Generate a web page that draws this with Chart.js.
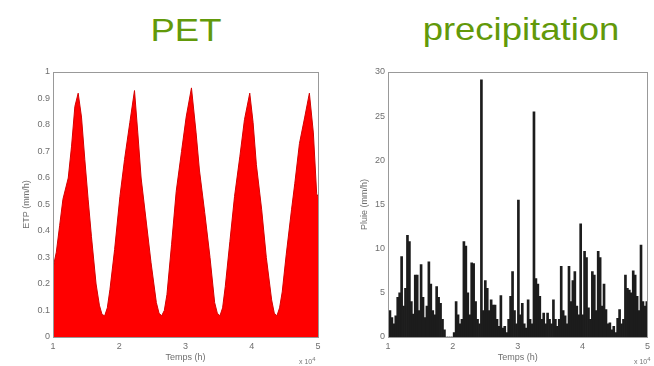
<!DOCTYPE html>
<html>
<head>
<meta charset="utf-8">
<script src="https://cdn.jsdelivr.net/npm/chart.js@4"></script>
<style>
  body { margin: 0; background: #fff; width: 654px; height: 366px; overflow: hidden; position: relative; font-family: 'Liberation Sans', Arial, sans-serif; }
  canvas { position: absolute; top: 0; }
  .title { position: absolute; font-size: 32px; line-height: 32px; color: #62990a; text-align: center; transform: scaleX(1.14); }
  .exp { position: absolute; font-size: 7px; color: #777; }
</style>
</head>
<body>
<div class="title" style="left:86px; top:14px; width:200px;">PET</div>
<div class="title" style="left:401px; top:13px; width:240px;">precipitation</div>
<canvas id="petChart" width="327" height="366" style="left:0;"></canvas>
<canvas id="rainChart" width="327" height="366" style="left:327px;"></canvas>
<div class="exp" style="left:299px; top:356px;">x 10<sup>4</sup></div>
<div class="exp" style="left:634px; top:356px;">x 10<sup>4</sup></div>
<script>
// time axis in units of 10^4 h
const petTime = [1.00, 1.05, 1.10, 1.15, 1.23, 1.28, 1.33, 1.38, 1.43, 1.48, 1.53, 1.58, 1.65, 1.70, 1.74, 1.78, 1.82, 1.86,
  1.93, 2.01, 2.08, 2.16, 2.23, 2.28, 2.33, 2.41, 2.48, 2.56, 2.60, 2.64, 2.68, 2.72,
  2.79, 2.86, 2.94, 3.01, 3.09, 3.16, 3.21, 3.29, 3.37, 3.44, 3.48, 3.52, 3.56, 3.60,
  3.67, 3.74, 3.82, 3.89, 3.97, 4.02, 4.07, 4.15, 4.22, 4.30, 4.34, 4.38, 4.42, 4.46,
  4.52, 4.60, 4.65, 4.72, 4.80, 4.87, 4.93, 4.98, 5.00];
const petMm = [0.26, 0.32, 0.42, 0.52, 0.60, 0.72, 0.87, 0.92, 0.83, 0.67, 0.52, 0.38, 0.20, 0.12, 0.085, 0.08, 0.11, 0.18,
  0.33, 0.53, 0.67, 0.81, 0.93, 0.77, 0.60, 0.43, 0.28, 0.13, 0.09, 0.08, 0.10, 0.16,
  0.35, 0.55, 0.70, 0.83, 0.94, 0.77, 0.63, 0.47, 0.30, 0.13, 0.09, 0.08, 0.11, 0.19,
  0.36, 0.53, 0.68, 0.82, 0.92, 0.81, 0.65, 0.48, 0.30, 0.14, 0.09, 0.08, 0.11, 0.17,
  0.31, 0.48, 0.58, 0.73, 0.83, 0.92, 0.77, 0.54, 0.53];

const rainTime = [1.00, 1.03, 1.06, 1.09, 1.12, 1.15, 1.18, 1.21, 1.24, 1.27, 1.30, 1.33, 1.36, 1.39, 1.42, 1.45, 1.48, 1.51, 1.54, 1.57,
  1.60, 1.63, 1.66, 1.69, 1.72, 1.75, 1.78, 1.81, 1.84, 1.87, 1.90, 1.93, 1.96, 1.99, 2.02, 2.05, 2.08, 2.11, 2.14, 2.17,
  2.20, 2.23, 2.26, 2.29, 2.32, 2.35, 2.38, 2.41, 2.44, 2.47, 2.50, 2.53, 2.56, 2.59, 2.62, 2.65, 2.68, 2.71, 2.74, 2.77,
  2.80, 2.83, 2.86, 2.89, 2.92, 2.95, 2.98, 3.01, 3.04, 3.07, 3.10, 3.13, 3.16, 3.19, 3.22, 3.25, 3.28, 3.31, 3.34, 3.37,
  3.40, 3.43, 3.46, 3.49, 3.52, 3.55, 3.58, 3.61, 3.64, 3.67, 3.70, 3.73, 3.76, 3.79, 3.82, 3.85, 3.88, 3.91, 3.94, 3.97,
  4.00, 4.03, 4.06, 4.09, 4.12, 4.15, 4.18, 4.21, 4.24, 4.27, 4.30, 4.33, 4.36, 4.39, 4.42, 4.45, 4.48, 4.51, 4.54, 4.57,
  4.60, 4.63, 4.66, 4.69, 4.72, 4.75, 4.78, 4.81, 4.84, 4.87, 4.90, 4.93, 4.96, 4.99];
const rainMm = [1.2, 3.0, 2.2, 1.5, 2.4, 4.5, 5.0, 9.1, 3.5, 5.5, 11.5, 10.8, 4.0, 2.6, 7.0, 7.0, 3.0, 8.2, 4.5, 2.2,
  3.5, 8.5, 6.0, 3.0, 2.5, 5.7, 4.5, 3.8, 2.0, 0.8, 0, 0, 0, 0, 0.5, 4.0, 2.5, 1.5, 2.0, 10.8,
  10.3, 5.0, 2.5, 8.4, 8.3, 4.0, 2.0, 1.5, 29.1, 3.0, 6.4, 5.5, 3.0, 4.2, 3.6, 3.6, 2.0, 1.2, 4.7, 1.0,
  1.2, 0.5, 2.0, 4.6, 7.4, 3.0, 1.5, 15.5, 2.5, 3.8, 1.5, 1.0, 4.2, 2.0, 1.5, 25.5, 6.6, 6.0, 4.6, 2.0,
  2.7, 1.5, 2.7, 2.0, 1.5, 4.2, 2.0, 1.2, 2.0, 8.0, 3.0, 2.4, 1.5, 8.0, 4.0, 6.4, 7.4, 3.5, 2.5, 12.8,
  2.5, 9.7, 9.0, 3.3, 2.0, 7.4, 7.0, 3.0, 9.7, 9.0, 3.5, 6.0, 3.1, 1.5, 1.6, 0.8, 1.2, 0.5, 2.1, 3.1,
  1.5, 2.0, 7.0, 5.5, 5.3, 5.0, 7.5, 7.0, 4.6, 3.0, 10.4, 4.0, 3.5, 4.0];

Chart.defaults.font.family = "'Liberation Sans', Arial, sans-serif";
Chart.defaults.color = '#6f6f6f';

const frame = {
  id: 'frame',
  afterDraw(chart) {
    const {ctx, chartArea: a} = chart;
    ctx.save();
    ctx.strokeStyle = '#999';
    ctx.lineWidth = 1;
    ctx.strokeRect(Math.round(a.left) + 0.5, Math.round(a.top) + 0.5, Math.round(a.right - a.left), Math.round(a.bottom - a.top));
    ctx.restore();
  }
};

function axes(yMax, yStep, yTitle, yWidth, yTitlePad) {
  return {
    x: {
      type: 'linear', min: 1, max: 5, offset: false,
      ticks: { stepSize: 1, font: { size: 9 }, padding: 4 },
      grid: { display: false, drawTicks: false, tickLength: 0 },
      border: { display: false },
      title: { display: true, text: 'Temps (h)', font: { size: 9 }, padding: { top: 0, bottom: 3 } },
      afterFit: s => { s.height = 29; }
    },
    y: {
      min: 0, max: yMax,
      ticks: { stepSize: yStep, font: { size: 9 }, padding: 3, callback: v => String(Math.round(v * 10) / 10) },
      grid: { display: false, drawTicks: false, tickLength: 0 },
      border: { display: false },
      title: { display: true, text: yTitle, font: { size: 9 }, padding: { top: yTitlePad, bottom: 0 } },
      afterFit: s => { s.width = yWidth; }
    }
  };
}

new Chart(document.getElementById('petChart'), {
  type: 'line',
  data: {
    datasets: [{
      label: 'PET',
      data: petTime.map((t, i) => ({ x: t, y: petMm[i] })),
      backgroundColor: '#ff0000',
      borderColor: '#d40000',
      borderWidth: 1,
      fill: 'origin',
      pointRadius: 0,
      tension: 0
    }]
  },
  options: {
    responsive: false,
    animation: false,
    devicePixelRatio: 1,
    layout: { padding: { left: 0, right: 9, top: 72, bottom: 0 } },
    plugins: { legend: { display: false }, tooltip: { enabled: false } },
    scales: axes(1, 0.1, 'ETP (mm/h)', 53, 21)
  },
  plugins: [frame]
});

new Chart(document.getElementById('rainChart'), {
  type: 'bar',
  data: {
    datasets: [{
      label: 'precipitation',
      data: rainTime.map((t, i) => ({ x: t, y: rainMm[i] })),
      backgroundColor: '#1c1c1c',
      barThickness: 2
    }]
  },
  options: {
    responsive: false,
    animation: false,
    devicePixelRatio: 1,
    layout: { padding: { left: 0, right: 1, top: 72, bottom: 0 } },
    plugins: { legend: { display: false }, tooltip: { enabled: false } },
    scales: axes(30, 5, 'Pluie (mm/h)', 61, 32)
  },
  plugins: [frame]
});
</script>
</body>
</html>
